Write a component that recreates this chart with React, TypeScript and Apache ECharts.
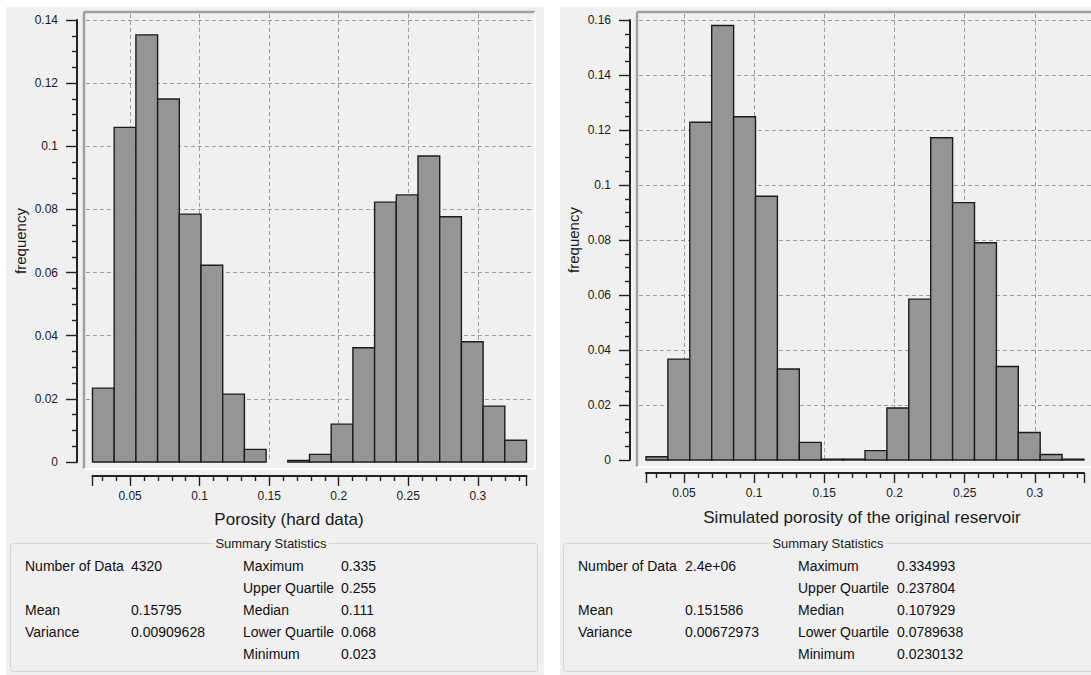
import React, { useEffect, useRef } from "react";
import * as echarts from "echarts";

// ---- data ----
const BIN_MIN = 0.023;
const BIN_MAX = 0.335;
const BIN_COUNT = 20;

const hardFreq = [
  0.0234, 0.106, 0.1353, 0.115, 0.0785, 0.0623, 0.0215, 0.004, 0, 0.0005,
  0.0024, 0.012, 0.0362, 0.0823, 0.0846, 0.0969, 0.0777, 0.0381, 0.0177, 0.0069,
];
const simFreq = [
  0.0012, 0.0367, 0.1228, 0.158, 0.1248, 0.0959, 0.0331, 0.0064, 0.0003, 0.0003,
  0.0034, 0.0189, 0.0585, 0.1172, 0.0936, 0.079, 0.034, 0.01, 0.002, 0.0003,
];

const hardTitle = "Porosity (hard data)";
const simTitle = "Simulated porosity of the original reservoir";
const yName = "frequency";
const boxTitle = "Summary Statistics";

const hardStatsA = [
  ["Number of Data", "4320"],
  ["", ""],
  ["Mean", "0.15795"],
  ["Variance", "0.00909628"],
  ["", ""],
];
const hardStatsB = [
  ["Maximum", "0.335"],
  ["Upper Quartile", "0.255"],
  ["Median", "0.111"],
  ["Lower Quartile", "0.068"],
  ["Minimum", "0.023"],
];
const simStatsA = [
  ["Number of Data", "2.4e+06"],
  ["", ""],
  ["Mean", "0.151586"],
  ["Variance", "0.00672973"],
  ["", ""],
];
const simStatsB = [
  ["Maximum", "0.334993"],
  ["Upper Quartile", "0.237804"],
  ["Median", "0.107929"],
  ["Lower Quartile", "0.0789638"],
  ["Minimum", "0.0230132"],
];

const yMaxHard = 0.14;
const yMaxSim = 0.16;
const yStep = 0.02;

// ---- layout / style ----
const FONT = '"Liberation Sans", Arial, sans-serif';
const TXT = "#1a1a1a";
const PANEL_BG = "#f0f0f0";
const GRID_LINE = "#9c9c9c";

const panels = [
  {
    freq: hardFreq,
    yMax: yMaxHard,
    title: hardTitle,
    statsA: hardStatsA,
    statsB: hardStatsB,
    bg: { x: 6, y: 7, w: 538, h: 668 },
    grid: { left: 92.5, top: 20, width: 434, height: 442 },
    frame: { x0: 84, y0: 12, x1: 535, y1: 469 },
    yOff: 15.5,
    xOff: 14,
    titleX: 289,
    titleY: 519,
    nameX: 20,
    box: { x: 10.5, y: 543.5, w: 527, h: 128 },
    statsX: [25, 131, 243, 341],
    boxTitleX: 271,
  },
  {
    freq: simFreq,
    yMax: yMaxSim,
    title: simTitle,
    statsA: simStatsA,
    statsB: simStatsB,
    bg: { x: 560, y: 7, w: 531, h: 668 },
    grid: { left: 646, top: 20, width: 438, height: 440 },
    frame: { x0: 637, y0: 12, x1: 1095, y1: 467 },
    yOff: 16,
    xOff: 13,
    titleX: 862,
    titleY: 517,
    nameX: 573,
    box: { x: 563.5, y: 543.5, w: 540, h: 128 },
    statsX: [578, 685, 798, 897],
    boxTitleX: 828,
  },
];

const rowsY = [566, 588, 610, 632, 654];

function fmt(v: number) {
  return String(parseFloat(Number(v).toFixed(6)));
}

export default function App() {
  const ref = useRef<HTMLDivElement>(null);

  useEffect(() => {
    if (!ref.current) return;
    const chart = echarts.init(ref.current, undefined, { renderer: "svg" });
    const binW = (BIN_MAX - BIN_MIN) / BIN_COUNT;

    const grids: any[] = [];
    const xAxes: any[] = [];
    const yAxes: any[] = [];
    const series: any[] = [];
    const graphics: any[] = [];

    panels.forEach((p, pi) => {
      const g = p.grid;
      const f = p.frame;
      const pxPerX = g.width / (BIN_MAX - BIN_MIN);
      const pxPerY = g.height / p.yMax;
      const fLeft = f.x0 + 2;
      const fRight = Math.min(f.x1 - 1, 1091);
      const fTop = f.y0 + 2;
      const baseY = g.top + g.height;

      // frame grid (for dashed grid lines)
      grids.push({
        left: fLeft,
        top: fTop,
        width: fRight - fLeft,
        height: baseY - fTop,
        containLabel: false,
      });
      // data grid
      grids.push({
        left: g.left,
        top: g.top,
        width: g.width,
        height: g.height,
        containLabel: false,
      });

      const splitStyle = {
        show: true,
        showMinLine: false,
        showMaxLine: false,
        lineStyle: { color: GRID_LINE, width: 1, type: [4, 3] },
      };

      xAxes.push({
        gridIndex: pi * 2,
        type: "value",
        min: BIN_MIN - (g.left - fLeft) / pxPerX,
        max: BIN_MAX + (fRight - (g.left + g.width)) / pxPerX,
        axisLine: { show: false },
        axisTick: { show: false },
        axisLabel: { show: false },
        splitLine: splitStyle,
      });
      yAxes.push({
        gridIndex: pi * 2,
        type: "value",
        min: 0,
        max: p.yMax + (g.top - fTop) / pxPerY,
        interval: yStep,
        axisLine: { show: false },
        axisTick: { show: false },
        axisLabel: { show: false },
        splitLine: splitStyle,
      });

      const axLine = { show: true, onZero: false, lineStyle: { color: "#222", width: 2 } };
      xAxes.push({
        gridIndex: pi * 2 + 1,
        type: "value",
        min: BIN_MIN,
        max: BIN_MAX,
        offset: p.xOff,
        axisLine: axLine,
        axisTick: { show: true, length: 10, lineStyle: { color: "#222", width: 1.4 } },
        minorTick: { show: true, splitNumber: 5, length: 5, lineStyle: { color: "#222", width: 1.4 } },
        axisLabel: {
          showMinLabel: false,
          showMaxLabel: false,
          margin: 14,
          fontSize: 12,
          fontFamily: FONT,
          color: TXT,
          formatter: fmt,
        },
        splitLine: { show: false },
      });
      yAxes.push({
        gridIndex: pi * 2 + 1,
        type: "value",
        min: 0,
        max: p.yMax,
        interval: yStep,
        offset: p.yOff,
        axisLine: axLine,
        axisTick: { show: true, length: 11, lineStyle: { color: "#222", width: 1.4 } },
        minorTick: { show: true, splitNumber: 4, length: 5, lineStyle: { color: "#222", width: 1.4 } },
        axisLabel: {
          margin: 19,
          fontSize: 12,
          fontFamily: FONT,
          color: TXT,
          formatter: fmt,
        },
        splitLine: { show: false },
      });

      series.push({
        type: "custom",
        xAxisIndex: pi * 2 + 1,
        yAxisIndex: pi * 2 + 1,
        silent: true,
        clip: false,
        encode: { x: [0, 1], y: 2 },
        data: p.freq.map((v, i) => [BIN_MIN + i * binW, BIN_MIN + (i + 1) * binW, v]),
        renderItem: (_params: any, api: any) => {
          const v = api.value(2);
          if (!(v > 0)) return null;
          const p0 = api.coord([api.value(0), v]);
          const p1 = api.coord([api.value(1), 0]);
          return {
            type: "rect",
            shape: { x: p0[0], y: p0[1], width: p1[0] - p0[0], height: p1[1] - p0[1] },
            style: { fill: "#959595", stroke: "#1c1c1c", lineWidth: 1.4 },
          };
        },
      });

      // panel background
      graphics.push({
        type: "rect",
        z: -10,
        silent: true,
        shape: { x: p.bg.x, y: p.bg.y, width: p.bg.w, height: p.bg.h },
        style: { fill: PANEL_BG },
      });
      // sunken frame
      const fl = (x1: number, y1: number, x2: number, y2: number, c: string, w: number) => ({
        type: "line",
        z: 5,
        silent: true,
        shape: { x1, y1, x2, y2 },
        style: { stroke: c, lineWidth: w },
      });
      graphics.push(fl(f.x0, f.y0, f.x1, f.y0, "#a0a0a0", 2.5));
      graphics.push(fl(f.x0, f.y0, f.x0, f.y1, "#a0a0a0", 2.5));
      graphics.push(fl(f.x0, f.y1, f.x1, f.y1, "#ffffff", 2));
      graphics.push(fl(f.x1, f.y0, f.x1, f.y1, "#ffffff", 2));

      // axis titles
      graphics.push({
        type: "text",
        z: 10,
        silent: true,
        x: p.titleX,
        y: p.titleY,
        style: {
          text: p.title,
          fill: TXT,
          fontSize: 17,
          fontFamily: FONT,
          align: "center",
          verticalAlign: "middle",
        },
      });
      graphics.push({
        type: "text",
        z: 10,
        silent: true,
        x: p.nameX,
        y: g.top + g.height / 2,
        rotation: Math.PI / 2,
        style: {
          text: yName,
          fill: TXT,
          fontSize: 15,
          fontFamily: FONT,
          align: "center",
          verticalAlign: "middle",
        },
      });

      // summary box
      graphics.push({
        type: "rect",
        z: 1,
        silent: true,
        shape: { x: p.box.x, y: p.box.y, width: p.box.w, height: p.box.h, r: 3 },
        style: { fill: "none", stroke: "#d6d6d6", lineWidth: 1 },
      });
      graphics.push({
        type: "text",
        z: 10,
        silent: true,
        x: p.boxTitleX,
        y: p.box.y,
        style: {
          text: boxTitle,
          fill: TXT,
          fontSize: 13,
          fontFamily: FONT,
          align: "center",
          verticalAlign: "middle",
          backgroundColor: PANEL_BG,
          padding: [0, 2],
        },
      });
      const addCol = (rows: string[][], xl: number, xv: number) => {
        rows.forEach((r, ri) => {
          r.forEach((t, ci) => {
            if (!t) return;
            graphics.push({
              type: "text",
              z: 10,
              silent: true,
              x: ci === 0 ? xl : xv,
              y: rowsY[ri],
              style: {
                text: t,
                fill: "#111",
                fontSize: 14,
                fontFamily: FONT,
                align: "left",
                verticalAlign: "middle",
              },
            });
          });
        });
      };
      addCol(p.statsA, p.statsX[0], p.statsX[1]);
      addCol(p.statsB, p.statsX[2], p.statsX[3]);
    });

    chart.setOption({
      animation: false,
      backgroundColor: "#ffffff",
      grid: grids,
      xAxis: xAxes,
      yAxis: yAxes,
      series,
      graphic: { elements: graphics },
    });

    return () => chart.dispose();
  }, []);

  return (
    <div
      ref={ref}
      style={{ position: "fixed", left: 0, top: 0, width: 1091, height: 675 }}
    />
  );
}
